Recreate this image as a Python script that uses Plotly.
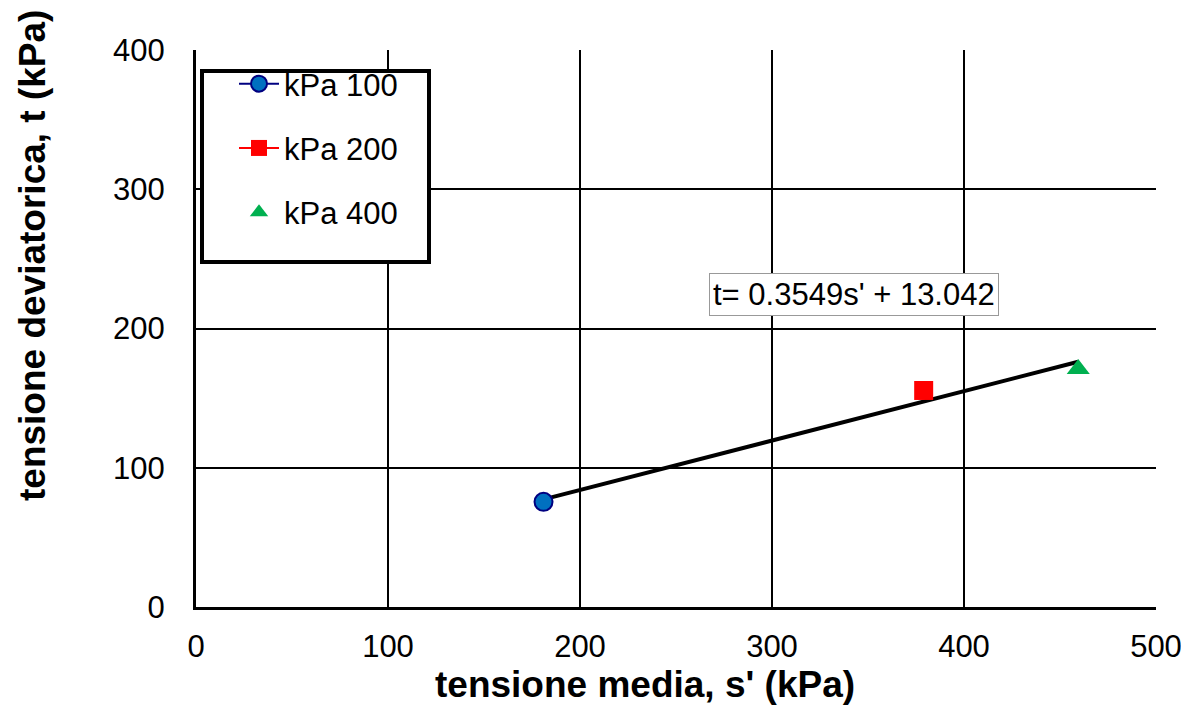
import plotly.graph_objects as go

# Data
series_names = ["kPa 100", "kPa 200", "kPa 400"]
s_vals = [181.0, 379.0, 459.5]
t_vals = [75.5, 155.5, 171.0]
slope = 0.3549
intercept = 13.042
trend_x = [181.0, 459.5]
eq_text = "t= 0.3549s' + 13.042"
x_ticks = [0, 100, 200, 300, 400, 500]
y_ticks = [0, 100, 200, 300, 400]
x_title = "tensione media, s' (kPa)"
y_title = "tensione deviatorica, t (kPa)"

trend_y = [slope * x + intercept for x in trend_x]

FONT = "Liberation Sans, Arial"
PX0, PY0, PW, PH = 194, 607, 960, 557  # plot area in screenshot pixels


def px(xp):
    return (xp - PX0) / PW


def py(yp):
    return (PY0 - yp) / PH


fig = go.Figure()

fig.add_trace(go.Scatter(
    x=trend_x, y=trend_y, mode="lines",
    line=dict(color="black", width=4), showlegend=False, hoverinfo="skip"))

styles = [
    dict(mode="lines+markers", line=dict(color="#000080", width=2),
         marker=dict(symbol="circle", size=18, color="#0070C0",
                     line=dict(color="#000080", width=2))),
    dict(mode="lines+markers", line=dict(color="#FF0000", width=2),
         marker=dict(symbol="square", size=19, color="#FF0000",
                     line=dict(color="#FF0000", width=0))),
    dict(mode="markers",
         marker=dict(symbol="triangle-up", size=20, color="#00B050",
                     line=dict(width=0))),
]

for i, name in enumerate(series_names):
    fig.add_trace(go.Scatter(x=[s_vals[i]], y=[t_vals[i]], name=name,
                             legendgroup=name, **styles[i]))

fig.add_annotation(x=(852 - PX0) / PW * 500, y=(PY0 - 294) / PH * 400,
                   text=eq_text, showarrow=False,
                   font=dict(family=FONT, size=31, color="black"),
                   bordercolor="#999999", borderwidth=1, borderpad=3, bgcolor="white")

# axis titles (positioned like the original, not centred on the plot)
fig.add_annotation(xref="paper", yref="paper", x=px(643), y=py(684),
                   xanchor="center", yanchor="middle",
                   text="<b>" + x_title + "</b>", showarrow=False,
                   font=dict(family=FONT, size=37, color="black"))
fig.add_annotation(xref="paper", yref="paper", x=px(30), y=py(256),
                   xanchor="center", yanchor="middle",
                   text="<b>" + y_title + "</b>", showarrow=False, textangle=-90,
                   font=dict(family=FONT, size=37, color="black"))

# legend frame
fig.add_shape(type="rect", xref="paper", yref="paper",
              x0=px(200), x1=px(427), y0=py(262), y1=py(71),
              line=dict(color="black", width=4), fillcolor="white", layer="above")

axis_common = dict(showgrid=True, gridcolor="black", gridwidth=2,
                   showline=True, linecolor="black", linewidth=3,
                   zeroline=False, ticks="",
                   tickfont=dict(family=FONT, size=31, color="black"),
                   mirror=False)

fig.update_layout(
    width=1189, height=706,
    margin=dict(l=188, r=41, t=42, b=107),
    paper_bgcolor="white", plot_bgcolor="white",
    font=dict(family=FONT, color="black"),
    xaxis=dict(range=[0, 500], tickvals=x_ticks, ticklabelstandoff=10, **axis_common),
    yaxis=dict(range=[0, 400], tickvals=y_ticks, ticklabelstandoff=22, **axis_common),
    legend=dict(x=px(232), y=py(57), xanchor="left", yanchor="top",
                bgcolor="rgba(0,0,0,0)", borderwidth=0,
                font=dict(family=FONT, size=31, color="black"),
                tracegroupgap=21, itemwidth=40),
    showlegend=True,
)

fig.write_html("out.html")
